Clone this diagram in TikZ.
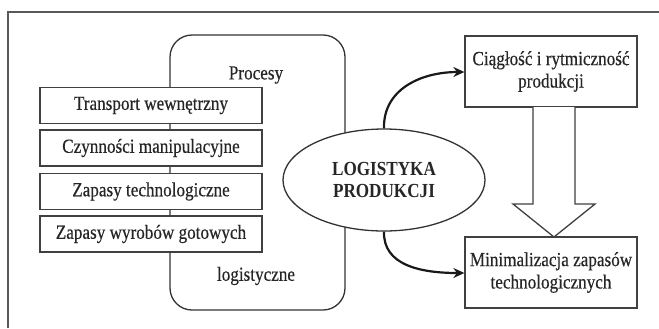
\documentclass[tikz,border=0pt]{standalone}
\usepackage{fontspec}
\setmainfont[FakeStretch=0.86,UprightFeatures={FakeBold=0.35}]{Liberation Serif}
\usetikzlibrary{shapes.geometric,arrows.meta}
\begin{document}
\begin{tikzpicture}[x=1bp,y=-1bp,
  every node/.style={font=\fontsize{20}{22.5}\selectfont, text=black!85},
  lbox/.style={draw=black!75, line width=1.3bp, fill=white, minimum width=222bp, minimum height=36bp, inner sep=0pt},
  rbox/.style={draw=black!75, line width=1.3bp, fill=white, minimum width=172bp, minimum height=71bp, inner sep=0pt, align=center},
  carrow/.style={draw=black!90, line width=2.2bp, -{Stealth[length=11bp,width=10bp]}}
]
\useasboundingbox (0,0) rectangle (659,328);
\fill[white] (0,0) rectangle (659,328);
% outer frame
\draw[black!65, line width=1.5bp] (8,328) -- (8,12) -- (659,12);
% rounded container
\draw[black!80, line width=1.3bp, rounded corners=22bp] (170,35) rectangle (345,310);
\node (procesy) at (256,75) {Procesy};
\node (logist) at (256,276) {logistyczne};
% left boxes
\node[lbox] (b1) at (151,105.5) {Transport wewnętrzny};
\node[lbox] (b2) at (151,148) {Czynności manipulacyjne};
\node[lbox] (b3) at (151,191.5) {Zapasy technologiczne};
\node[lbox] (b4) at (151,234) {Zapasy wyrobów gotowych};
% ellipse
\node[ellipse, draw=black!80, line width=1.3bp, fill=white, minimum width=202bp, minimum height=102bp, inner sep=0pt, align=center, font=\fontsize{20}{22.5}\selectfont\bfseries] (lp) at (384,180) {LOGISTYKA\\PRODUKCJI};
% right boxes
\node[rbox] (t) at (551,71.5) {Ciągłość i rytmiczność\\produkcji};
\node[rbox] (m) at (551,272.5) {Minimalizacja zapasów\\technologicznych};
% block arrow
\draw[black!75, line width=1.3bp, fill=white] (533,107) -- (533,204) -- (513,204) -- (554,237) -- (595,204) -- (575,204) -- (575,107);
% curved arrows
\draw[carrow] (lp.north) .. controls (383,90) and (420,72) .. (t.west |- 0,72);
\draw[carrow] (lp.south) .. controls (383,265) and (420,273) .. (m.west |- 0,273);
\end{tikzpicture}
\end{document}
